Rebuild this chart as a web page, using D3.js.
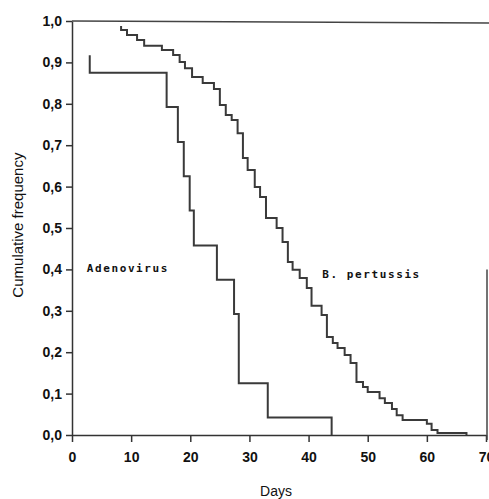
<!DOCTYPE html>
<meta charset="utf-8">
<style>

body { margin: 0; background: #fff; }

.chart text {
  fill: #111;
  font-family: "Liberation Sans", Arial, sans-serif;
}

.axis path, .axis line {
  stroke: #333;
  stroke-width: 1.5;
}

.axis text {
  font-size: 14px;
  font-weight: bold;
}

.curve {
  fill: none;
  stroke: #3a3a3a;
  stroke-width: 2;
}

.note {
  font-family: "DejaVu Sans Mono", monospace !important;
  font-size: 11px;
  font-weight: bold;
  letter-spacing: 1.6px;
}

</style>

<svg class="chart"></svg>

<script src="https://cdn.jsdelivr.net/npm/d3@7"></script>

<script>

// Adenovirus step curve (day of step, value after step)
var adenoDays   = [3, 3, 16, 17.9, 18.9, 19.9, 20.6, 24.5, 27.4, 28.2, 33.1, 43.9];
var adenoValues = [0.917, 0.875, 0.792, 0.708, 0.625, 0.542, 0.458, 0.375, 0.292, 0.125, 0.042, 0];

// B. pertussis step curve
var pertDays   = [8.3, 8.3, 9.3, 11.0, 12.2, 15.2, 17.1, 18.2, 19.1, 20.3, 22.1, 24.0, 25.0, 26.0,
                  27.0, 28.0, 28.9, 29.7, 30.9, 31.8, 32.8, 34.6, 35.6, 36.5, 37.3, 38.5, 39.7,
                  40.5, 42.2, 43.1, 44.1, 44.9, 46.1, 47.1, 48.1, 49.2, 50.0, 52.0, 52.9, 54.1,
                  54.9, 55.9, 60.0, 60.8, 61.8, 66.7];
var pertValues = [0.988, 0.978, 0.966, 0.954, 0.940, 0.930, 0.918, 0.901, 0.886, 0.865, 0.850,
                  0.836, 0.797, 0.773, 0.761, 0.729, 0.669, 0.640, 0.599, 0.575, 0.524, 0.500,
                  0.466, 0.418, 0.399, 0.379, 0.355, 0.312, 0.290, 0.237, 0.222, 0.210, 0.193,
                  0.174, 0.128, 0.116, 0.104, 0.089, 0.077, 0.063, 0.048, 0.036, 0.027, 0.012,
                  0.005, 0];

var xTicks = [0, 10, 20, 30, 40, 50, 60, 70];
var yTicks = [0, 0.1, 0.2, 0.3, 0.4, 0.5, 0.6, 0.7, 0.8, 0.9, 1.0];

var labels = [
  {text: "Adenovirus",   day: 2.5,  value: 0.394},
  {text: "B. pertussis", day: 42.3, value: 0.379}
];

var W = 489, H = 499;

var chart = d3.select(".chart")
	.attr("width", W)
	.attr("height", H)

var x = d3.scaleLinear()
	.domain([0, 70])
	.range([72, 486])

var y = d3.scaleLinear()
	.domain([0, 1])
	.range([435, 21])

var comma = function(d) { return d3.format(".1f")(d).replace(".", ","); }

chart.append("g")
	.attr("class", "x axis")
	.attr("transform", "translate(0," + y(0) + ")")
	.call(d3.axisBottom(x).tickValues(xTicks).tickSize(7).tickSizeOuter(0).tickPadding(10))

chart.append("g")
	.attr("class", "y axis")
	.attr("transform", "translate(" + x(0) + ",0)")
	.call(d3.axisLeft(y).tickValues(yTicks).tickFormat(comma).tickSize(6).tickSizeOuter(0).tickPadding(4))

// frame: top line and partial right edge
chart.append("line")
	.attr("x1", x(0)).attr("x2", W)
	.attr("y1", y(1)).attr("y2", y(1) + 2)
	.attr("stroke", "#444").attr("stroke-width", 1.5)

chart.append("line")
	.attr("x1", x(70) + 1).attr("x2", x(70) + 1)
	.attr("y1", y(0.4)).attr("y2", y(0) + 5)
	.attr("stroke", "#444").attr("stroke-width", 1.5)

var line = d3.line()
	.x(function(d) { return x(d[0]); })
	.y(function(d) { return y(d[1]); })
	.curve(d3.curveStepAfter)

chart.append("path")
	.attr("class", "curve")
	.attr("d", line(d3.zip(adenoDays, adenoValues)))

chart.append("path")
	.attr("class", "curve")
	.attr("d", line(d3.zip(pertDays, pertValues)))

chart.selectAll(".note")
	.data(labels)
  .enter().append("text")
	.attr("class", "note")
	.attr("x", function(d) { return x(d.day); })
	.attr("y", function(d) { return y(d.value); })
	.text(function(d) { return d.text; })

chart.append("text")
	.attr("x", 276)
	.attr("y", 496)
	.attr("text-anchor", "middle")
	.style("font-size", "14px")
	.text("Days")

chart.append("text")
	.attr("transform", "translate(23," + y(0.507) + ") rotate(-90)")
	.attr("text-anchor", "middle")
	.style("font-size", "15px")
	.text("Cumulative frequency")

</script>
